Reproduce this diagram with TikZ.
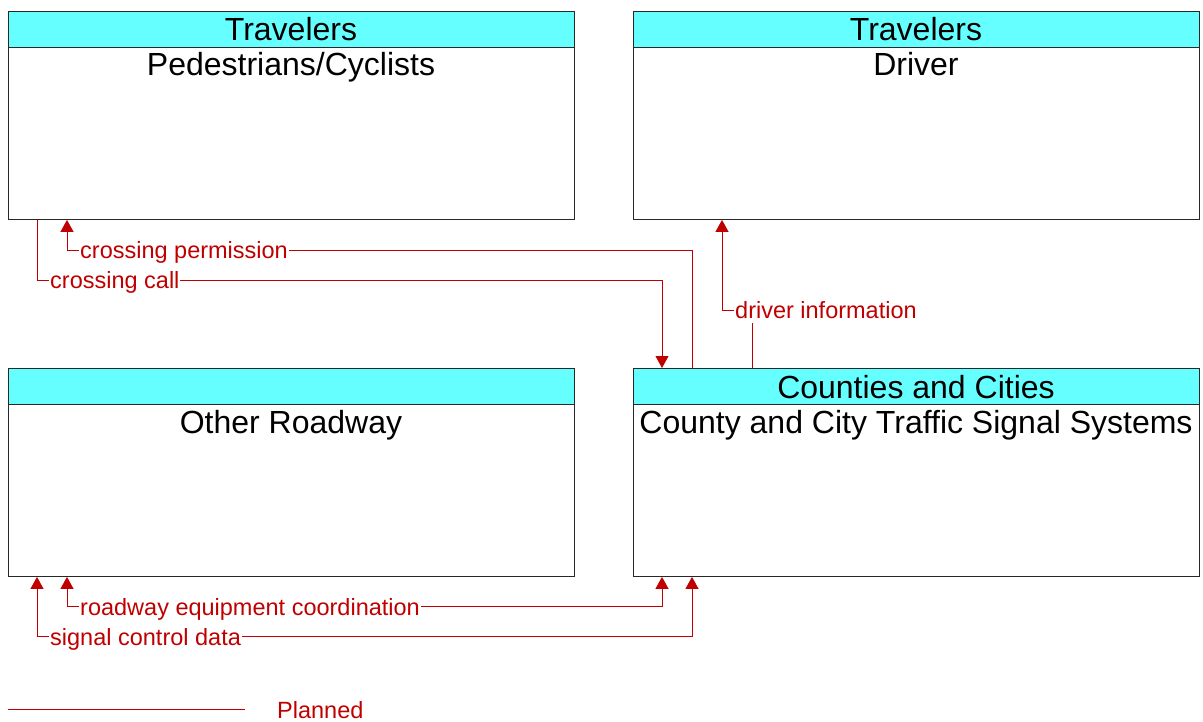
\documentclass[tikz,border=0pt]{standalone}
\usepackage{fontspec}
\setmainfont{Liberation Sans}
\usetikzlibrary{arrows.meta}
\definecolor{hdr}{RGB}{102,255,255}
\definecolor{flowred}{RGB}{192,0,0}
\definecolor{boxline}{RGB}{40,40,40}
\tikzset{
  box/.style={draw=boxline, line width=0.9pt, minimum width=566pt, minimum height=208pt, inner sep=0pt, anchor=north west},
  ttl/.style={anchor=base, inner sep=0pt, font=\fontsize{32}{36}\selectfont},
  lbl/.style={anchor=base west, fill=white, inner xsep=1pt, inner ysep=4pt, text=flowred, font=\fontsize{23.5}{27}\selectfont},
  flow/.style={draw=flowred, line width=0.9pt, -{Triangle[width=13pt,length=12pt]}},
  flowboth/.style={draw=flowred, line width=0.9pt, {Triangle[width=13pt,length=12pt]}-{Triangle[width=13pt,length=12pt]}},
}
\begin{document}
\begin{tikzpicture}[x=1pt,y=-1pt]
\useasboundingbox (0,0) rectangle (1203,722);
% boxes
\node[box] (ped) at (8,11) {};
\node[box] (drv) at (633,11) {};
\node[box] (oth) at (8,368) {};
\node[box] (cty) at (633,368) {};
\foreach \b in {ped,drv,oth,cty}{
  \fill[hdr] (\b.north west) rectangle ([yshift=-36pt]\b.north east);
  \draw[boxline, line width=0.9pt] ([yshift=-36pt]\b.north west) -- ([yshift=-36pt]\b.north east);
  \draw[boxline, line width=0.9pt] (\b.north west) rectangle (\b.south east);
}
% titles
\node[ttl] (pedh) at (291,41) {Travelers};
\node[ttl] (pedt) at (291,76) {Pedestrians/Cyclists};
\node[ttl] (drvh) at (916,41) {Travelers};
\node[ttl] (drvt) at (916,76) {Driver};
\node[ttl] (otht) at (291,433) {Other Roadway};
\node[ttl] (ctyh) at (916,398) {Counties and Cities};
\node[ttl] (ctyt) at (916,433) {County and City Traffic Signal Systems};
% flows
\draw[flow] ([xshift=59pt]cty.north west) -- ++(0,-118) -| ([xshift=59pt]ped.south west);
\draw[flow] ([xshift=29pt]ped.south west) -- ++(0,61) -| ([xshift=29pt]cty.north west);
\draw[flow] ([xshift=119pt]cty.north west) -- ++(0,-58) -| ([xshift=89pt]drv.south west);
\draw[flowboth] ([xshift=59pt]oth.south west) |- ++(300,30) -| ([xshift=29pt]cty.south west);
\draw[flowboth] ([xshift=29pt]oth.south west) |- ++(300,60) -| ([xshift=59pt]cty.south west);
% labels
\node[lbl] (l1) at (79,259) {crossing permission};
\node[lbl] (l2) at (49,289) {crossing call};
\node[lbl] (l3) at (734,319) {driver information};
\node[lbl] (l4) at (79,615) {roadway equipment coordination};
\node[lbl] (l5) at (49,645) {signal control data};
% legend
\coordinate (lg1) at (8,709);
\coordinate (lg2) at (245,709);
\draw[flowred, line width=0.9pt] (lg1) -- (lg2);
\node[anchor=base west, inner sep=0pt, text=flowred, font=\fontsize{23.5}{27}\selectfont] (lgt) at (277,718) {Planned};
\end{tikzpicture}
\end{document}
